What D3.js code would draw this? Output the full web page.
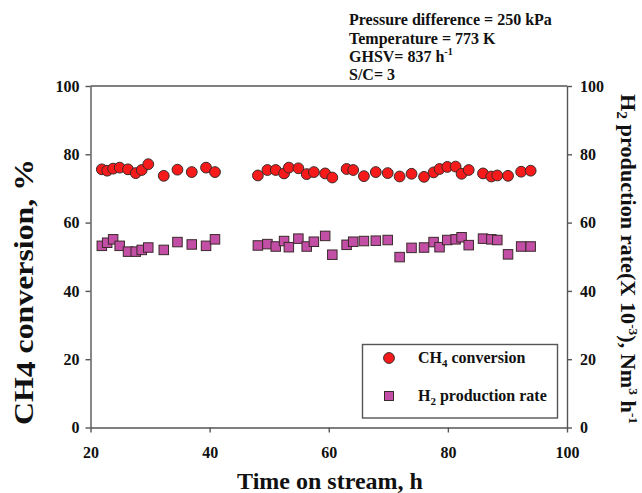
<!DOCTYPE html>
<html>
<head>
<meta charset="utf-8">
<script src="https://cdn.jsdelivr.net/npm/d3@7"></script>
<style>
  html, body { margin: 0; padding: 0; background: #fff; }
  svg { display: block; }
  text { font-family: "Liberation Serif", "Times New Roman", serif; font-weight: bold; fill: #111; }
</style>
</head>
<body>
<svg id="chart" width="642" height="493"></svg>
<script>
// ---- data ----
const times = [21.9, 22.8, 23.8, 24.9, 26.3, 27.6, 28.6, 29.7, 32.3, 34.6, 37.0, 39.4, 40.9,
  48.1, 49.7, 51.1, 52.5, 53.3, 54.9, 56.3, 57.5, 59.4, 60.6, 63.0, 64.1, 65.9, 67.9, 69.9,
  71.9, 73.9, 76.0, 77.6, 78.6, 79.9, 81.3, 82.3, 83.5, 85.9, 87.3, 88.3, 90.1, 92.3, 93.9];
const ch4Conversion = [75.6, 75.2, 75.8, 76.1, 75.6, 74.5, 75.4, 77.1, 73.7, 75.5, 74.8, 76.1, 74.8,
  73.8, 75.4, 75.4, 74.4, 76.1, 75.9, 74.2, 74.8, 74.4, 73.2, 75.7, 75.4, 73.6, 74.8, 74.5,
  73.5, 74.3, 73.4, 74.7, 75.7, 76.3, 76.4, 74.3, 75.4, 74.4, 73.5, 73.8, 73.7, 74.9, 75.2];
const h2Rate = [53.2, 54.1, 55.1, 53.2, 51.5, 51.5, 52.0, 52.7, 52.0, 54.3, 53.6, 53.2, 55.1,
  53.3, 53.7, 53.0, 54.6, 52.8, 55.3, 53.0, 54.4, 56.1, 50.6, 53.5, 54.4, 54.6, 54.7, 54.9,
  49.9, 52.6, 52.7, 54.3, 52.8, 54.9, 55.1, 55.7, 53.4, 55.3, 55.1, 54.9, 50.7, 53.0, 53.0];
const xTicks = [20, 40, 60, 80, 100];
const yTicks = [0, 20, 40, 60, 80, 100];
const annotations = ["Pressure difference = 250 kPa", "Temperature = 773 K", "GHSV= 837 h", "S/C= 3"];

// ---- layout ----
const svg = d3.select("#chart");
const x = d3.scaleLinear().domain([20, 100]).range([90.5, 567]);
const yL = d3.scaleLinear().domain([0, 100]).range([427.5, 86]);
const yR = d3.scaleLinear().domain([0, 100]).range([427.5, 86]);
const axisColor = "#555";

function styleAxis(g) {
  g.selectAll("path, line").attr("stroke", axisColor).attr("stroke-width", 1.4);
  g.selectAll("text").style("font-size", "16px").attr("fill", "#111");
}

// top border
svg.append("line").attr("x1", x(20)).attr("x2", x(100)).attr("y1", yL(100)).attr("y2", yL(100))
  .attr("stroke", axisColor).attr("stroke-width", 1.4);

svg.append("g").attr("transform", `translate(0,${yL(0)})`)
  .call(d3.axisBottom(x).tickValues(xTicks).tickSize(5).tickSizeOuter(0).tickPadding(14))
  .call(styleAxis);
svg.append("g").attr("transform", `translate(${x(20)},0)`)
  .call(d3.axisLeft(yL).tickValues(yTicks).tickSize(5).tickSizeOuter(0).tickPadding(6))
  .call(styleAxis);
svg.append("g").attr("transform", `translate(${x(100)},0)`)
  .call(d3.axisRight(yR).tickValues(yTicks).tickSize(5).tickSizeOuter(0).tickPadding(8))
  .call(styleAxis);

// ---- marks ----
const redFill = "#f71a1a", purpleFill = "#c24fa5", markStroke = "#3a2a2a";
const sq = 9.5;
svg.append("g").selectAll("rect").data(times).join("rect")
  .attr("x", (d) => x(d) - sq / 2)
  .attr("y", (d, i) => yR(h2Rate[i]) - sq / 2)
  .attr("width", sq).attr("height", sq)
  .attr("fill", purpleFill).attr("stroke", markStroke).attr("stroke-width", 1);
svg.append("g").selectAll("circle").data(times).join("circle")
  .attr("cx", (d) => x(d))
  .attr("cy", (d, i) => yL(ch4Conversion[i]))
  .attr("r", 5.4)
  .attr("fill", redFill).attr("stroke", markStroke).attr("stroke-width", 1);

// ---- legend ----
const lg = svg.append("g");
lg.append("rect").attr("x", 362.5).attr("y", 344.5).attr("width", 195).attr("height", 73.5)
  .attr("fill", "#fff").attr("stroke", axisColor).attr("stroke-width", 1.4);
lg.append("circle").attr("cx", 389).attr("cy", 358).attr("r", 5.4)
  .attr("fill", redFill).attr("stroke", markStroke).attr("stroke-width", 1);
lg.append("rect").attr("x", 389 - 4.5).attr("y", 396 - 4.5).attr("width", 9).attr("height", 9)
  .attr("fill", purpleFill).attr("stroke", markStroke).attr("stroke-width", 1);
const t1 = lg.append("text").attr("x", 418).attr("y", 363).style("font-size", "16px");
t1.append("tspan").text("CH");
t1.append("tspan").text("4").style("font-size", "11px").attr("dy", 4);
t1.append("tspan").text(" conversion").attr("dy", -4);
const t2 = lg.append("text").attr("x", 418).attr("y", 401).style("font-size", "16px");
t2.append("tspan").text("H");
t2.append("tspan").text("2").style("font-size", "11px").attr("dy", 4);
t2.append("tspan").text(" production rate").attr("dy", -4);

// ---- annotations ----
const ann = svg.append("g").style("font-size", "16px");
const ay = [25, 43.5, 62, 80];
annotations.forEach((s, i) => {
  const t = ann.append("text").attr("x", 349).attr("y", ay[i]);
  t.append("tspan").text(s);
  if (i === 2) t.append("tspan").text("-1").style("font-size", "10px").attr("dy", -7);
});

// ---- axis titles ----
svg.append("text").attr("x", 330).attr("y", 489).attr("text-anchor", "middle")
  .style("font-size", "24px").text("Time on stream, h");

const lt = svg.append("text").attr("transform", "translate(33,292) rotate(-90)")
  .attr("text-anchor", "middle").style("font-size", "28px")
  .attr("textLength", 266).attr("lengthAdjust", "spacingAndGlyphs");
lt.append("tspan").text("CH");
lt.append("tspan").text("4").attr("dy", 2);
lt.append("tspan").text(" conversion, %").attr("dy", -2);

const rt = svg.append("text").attr("transform", "translate(621,94) rotate(90)")
  .attr("text-anchor", "start").style("font-size", "20px")
  .attr("textLength", 330).attr("lengthAdjust", "spacingAndGlyphs");
rt.append("tspan").text("H");
rt.append("tspan").text("2").style("font-size", "14px").attr("dy", 4);
rt.append("tspan").text(" production rate(X 10").attr("dy", -4);
rt.append("tspan").text("-3").style("font-size", "12px").attr("dy", -8);
rt.append("tspan").text("), Nm").attr("dy", 8);
rt.append("tspan").text("3").style("font-size", "12px").attr("dy", -8);
rt.append("tspan").text(" h").attr("dy", 8);
rt.append("tspan").text("-1").style("font-size", "12px").attr("dy", -8);
</script>
</body>
</html>
